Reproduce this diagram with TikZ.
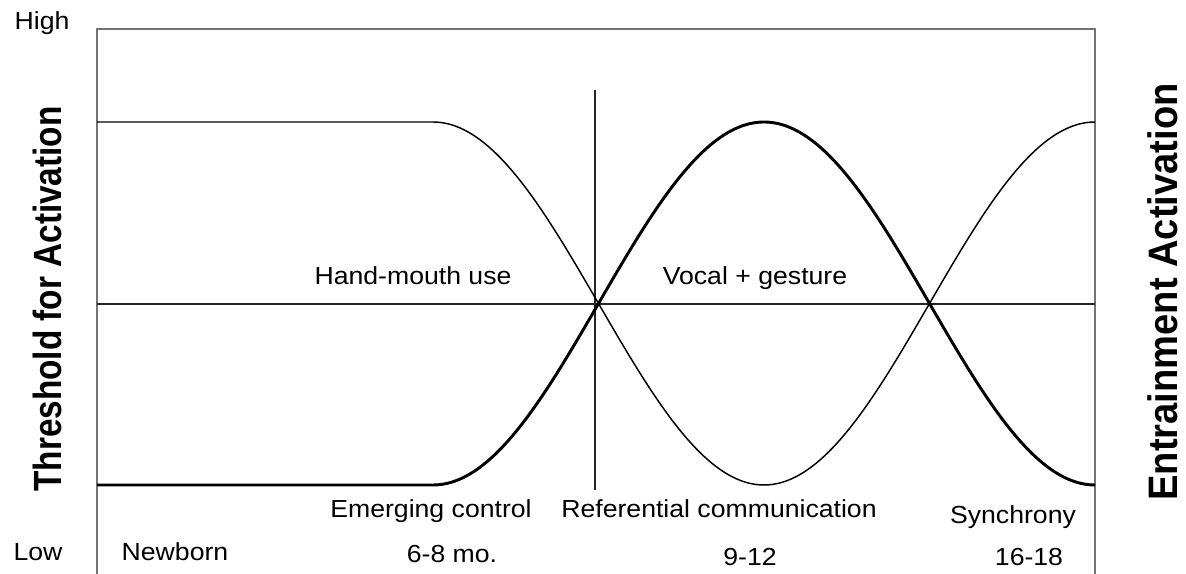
\documentclass[tikz,border=0pt]{standalone}
\usepackage{fontspec}
\setmainfont{Liberation Sans}
\begin{document}
\begin{tikzpicture}[x=0.75pt,y=-0.75pt,
  lbl/.style={inner sep=0pt,anchor=base,font=\fontsize{18.5}{20}\selectfont},
  axlbl/.style={inner sep=0pt,rotate=90,font=\bfseries},
  frame/.style={draw=black!55,line width=0.8pt},
  mid/.style={draw=black!85,line width=1.1pt},
  thin/.style={draw=black,line width=1.1pt},
  thick/.style={draw=black,line width=2.2pt}]
\useasboundingbox (0,0) rectangle (1186,574);
% frame
\draw[frame] (97,574) -- (97,29) -- (1095,29) -- (1095,574);
% middle line
\draw[mid] (97,304) -- (1095,304);
% vertical line
\draw[mid] (595,90) -- (595,490);
% thin curve (threshold)
\draw[thin] (97,122) -- (433,122)
  plot[domain=433:1095,samples=200] (\x,{303.5-181.5*cos((\x-433)/331*180)});
% thick curve (entrainment)
\draw[thick] (97,485) -- (433,485)
  plot[domain=433:1095,samples=200] (\x,{303.5+181.5*cos((\x-433)/331*180)});
% labels
\node[lbl] (high) at (42,30) {\scalebox{1.08}[1]{High}};
\node[lbl] (low) at (38,560) {\scalebox{1.08}[1]{Low}};
\node[lbl] (hm) at (413,285) {\scalebox{1.08}[1]{Hand-mouth use}};
\node[lbl] (vg) at (755,285) {\scalebox{1.08}[1]{Vocal + gesture}};
\node[lbl] (ec) at (431,517) {\scalebox{1.08}[1]{Emerging control}};
\node[lbl] (rc) at (719,517) {\scalebox{1.08}[1]{Referential communication}};
\node[lbl] (sy) at (1013,523) {\scalebox{1.08}[1]{Synchrony}};
\node[lbl] (nb) at (175,560) {\scalebox{1.08}[1]{Newborn}};
\node[lbl] (m68) at (452,562) {\scalebox{1.08}[1]{6-8 mo.}};
\node[lbl] (m912) at (750,565) {\scalebox{1.08}[1]{9-12}};
\node[lbl] (m1618) at (1029,565) {\scalebox{1.08}[1]{16-18}};
\node[axlbl] (thr) at (47,299) {\fontsize{25}{27}\selectfont\scalebox{1}[1.18]{Threshold for Activation}};
\node[axlbl] (ent) at (1163,292) {\fontsize{28.6}{30}\selectfont\scalebox{1}[1.08]{Entrainment Activation}};
\end{tikzpicture}
\end{document}
